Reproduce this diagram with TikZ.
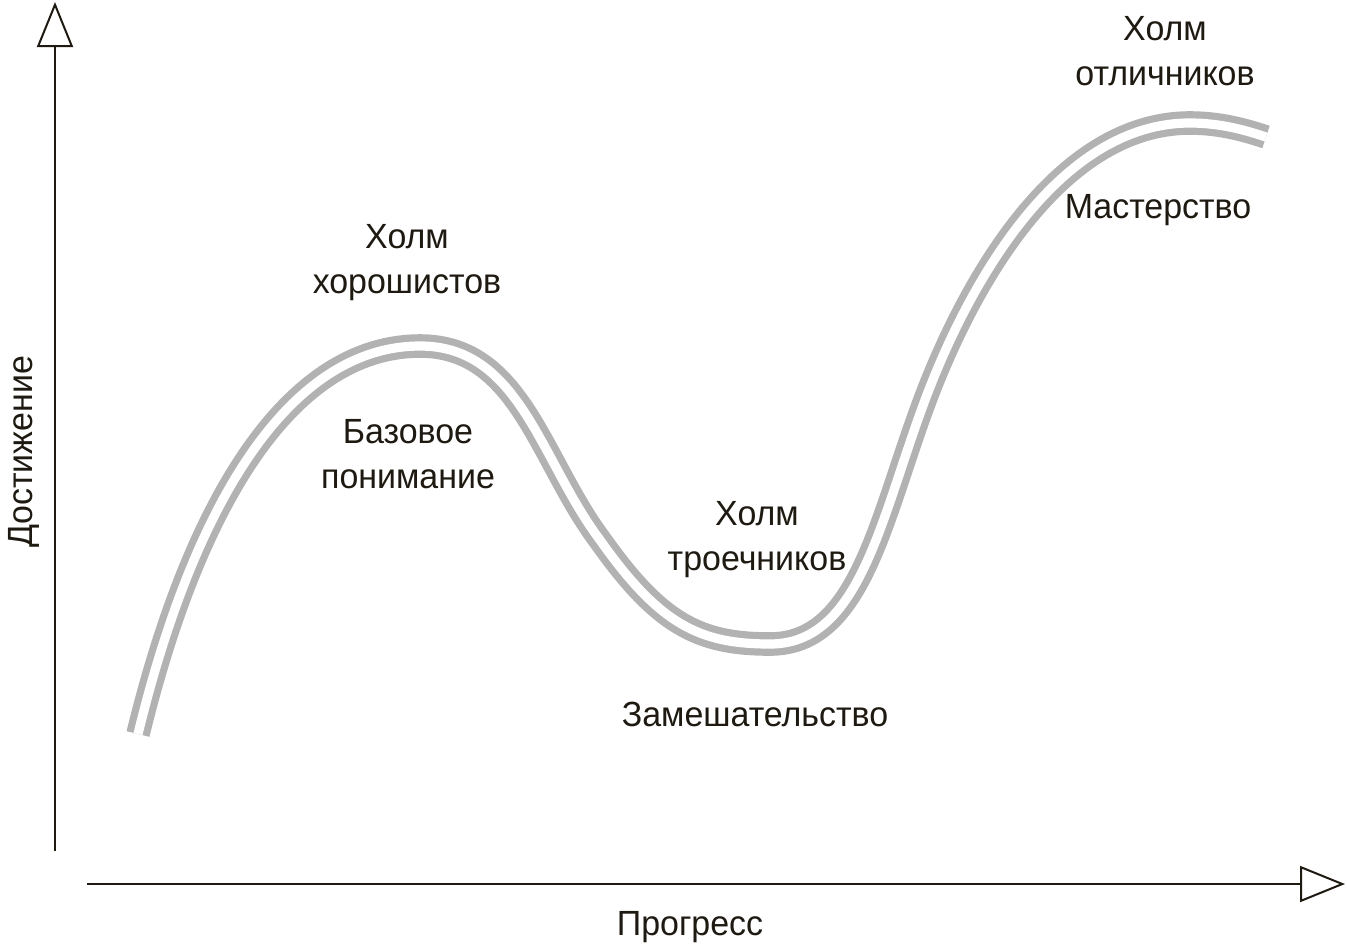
\documentclass[tikz,border=0pt]{standalone}
\usepackage{fontspec}
\setmainfont{Liberation Sans}[FakeStretch=0.97]
\usepackage{xcolor}
\usetikzlibrary{arrows.meta,positioning}
\definecolor{ink}{RGB}{30,26,18}
\definecolor{track}{RGB}{178,178,178}

\begin{document}
\begin{tikzpicture}[x=0.5pt, y=-0.5pt,
    % ---- styles ----
    L/.style={font=\fontsize{17.5}{22.5}\selectfont, text=ink, align=center,
              inner sep=0pt},
    AX/.style={-{Triangle[open, length=22.5pt, width=18pt]}, draw=ink,
               line width=1pt},
    TR/.style={draw=track, line width=3.6pt, double=white,
               double distance=4.6pt, line cap=butt},
]
\useasboundingbox (0,0) rectangle (1347,944);

% ===== Axes =====
\coordinate (yfoot) at (55,851);
\coordinate (ytip)  at (55,2);
\coordinate (xfoot) at (87,884);
\coordinate (xtip)  at (1345,884);
\draw[AX] (yfoot) -- (ytip);
\draw[AX] (xfoot) -- (xtip);

\node[L] (prog) at (690,927) {Прогресс};
\node[L, rotate=90] (ach) at (24,452) {Достижение};

% ===== Track =====
\draw[TR] (138,734)
    .. controls (200,480) and (300,346) .. (420,346)
    .. controls (520,346) and (540,460) .. (600,540)
    .. controls (660,625) and (700,644) .. (770,644)
    .. controls (860,644) and (880,520) .. (925,400)
    .. controls (970,280) and (1060,123) .. (1190,123)
    .. controls (1220,123) and (1245,130) .. (1266,137);

% ===== Labels =====
\node[L] (good)  at (407,263)  {Холм\\хорошистов};
\node[L] (base)  at (408,454)  {Базовое\\понимание};
\node[L] (avg)   at (757,540)  {Холм\\троечников};
\node[L] (conf)  at (755,714)  {Замешательство};
\node[L] (best)  at (1165,51)  {Холм\\отличников};
\node[L] (mast)  at (1158,210) {Мастерство};

\end{tikzpicture}
\end{document}
